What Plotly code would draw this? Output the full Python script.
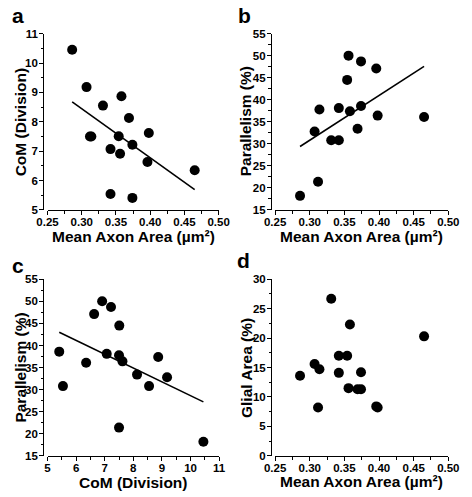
import numpy as np
import plotly.graph_objects as go

# ---- data (one entry per sample) ----
area = [0.286, 0.307, 0.312, 0.314, 0.331, 0.342, 0.342, 0.354, 0.356, 0.358,
        0.369, 0.374, 0.374, 0.396, 0.398, 0.465]          # Mean Axon Area (µm²)
com = [10.45, 9.18, 7.50, 7.50, 8.55, 7.07, 5.54, 7.51, 6.91, 8.87,
       8.13, 7.22, 5.41, 6.63, 7.62, 6.35]                  # CoM (Division)
parallelism = [18.2, 32.8, 21.4, 37.8, 30.8, 38.1, 30.8, 44.5, 50.0, 37.4,
               33.4, 48.7, 38.6, 47.1, 36.4, 36.1]          # Parallelism (%)
glial = [13.6, 15.6, 8.2, 14.7, 26.7, 14.1, 17.0, 17.0, 11.5, 22.3,
         11.3, 14.2, 11.3, 8.4, 8.2, 20.3]                  # Glial Area (%)

panel_letters = ["a", "b", "c", "d"]
area_title = "Mean Axon Area (µm²)"
com_title = "CoM (Division)"
par_title = "Parallelism (%)"
glial_title = "Glial Area (%)"

W, H = 472, 497
FONT = "Liberation Sans, Arial, sans-serif"

def px_x(p):
    return p / W

def px_y(p):
    return 1 - p / H

fig = go.Figure()

panels = [
    dict(x=area, y=com, fit=True, xr=[0.25, 0.50], xd=0.05, xm=0.025, xf=".2f",
         yr=[5, 11], yd=1, ym=0.5, xdom=(38.3, 217.8), ydom=(28.3, 209.0), ypos=34.0,
         xt=area_title, yt=com_title, xt_y=236, yt_x=10, letter=(7, 9.5)),
    dict(x=area, y=parallelism, fit=True, xr=[0.25, 0.50], xd=0.05, xm=0.025, xf=".2f",
         yr=[15, 55], yd=5, ym=2.5, xdom=(277.0, 458.7), ydom=(28.3, 209.0), ypos=272.8,
         xt=area_title, yt=par_title, xt_y=236, yt_x=246, letter=(245, 9.5)),
    dict(x=com, y=parallelism, fit=True, xr=[5, 11], xd=1, xm=0.5, xf="d",
         yr=[15, 55], yd=5, ym=2.5, xdom=(38.3, 218.3), ydom=(280.0, 461.0), ypos=34.0,
         xt=com_title, yt=par_title, xt_y=488, yt_x=9.5, letter=(7, 266)),
    dict(x=area, y=glial, fit=False, xr=[0.25, 0.50], xd=0.05, xm=0.025, xf=".2f",
         yr=[0, 30], yd=5, ym=2.5, xdom=(277.0, 458.7), ydom=(280.0, 461.0), ypos=273.0,
         xt=area_title, yt=glial_title, xt_y=487, yt_x=247, letter=(244, 261)),
]

annotations = []
for i, p in enumerate(panels):
    n = "" if i == 0 else str(i + 1)
    xa, ya = "x" + n, "y" + n
    fig.add_trace(go.Scatter(
        x=p["x"], y=p["y"], mode="markers", xaxis=xa, yaxis=ya,
        marker=dict(size=10, color="black"), showlegend=False, cliponaxis=False,
        hoverinfo="skip"))
    if p["fit"]:
        xs = np.array(p["x"], dtype=float)
        ys = np.array(p["y"], dtype=float)
        k, b = np.polyfit(xs, ys, 1)
        xl = np.array([xs.min(), xs.max()])
        fig.add_trace(go.Scatter(
            x=xl, y=k * xl + b, mode="lines", xaxis=xa, yaxis=ya,
            line=dict(color="black", width=1.6), showlegend=False, hoverinfo="skip"))

    tickfont = dict(family=FONT, size=11.5, color="black", weight="bold")
    fig.layout["xaxis" + n] = dict(
        domain=[px_x(p["xdom"][0]), px_x(p["xdom"][1])], anchor=ya,
        range=p["xr"], dtick=p["xd"], tick0=p["xr"][0], tickformat=p["xf"],
        showline=True, linecolor="black", linewidth=1.4, showgrid=False, zeroline=False,
        ticks="outside", ticklen=4, tickwidth=1.4, tickcolor="black",
        ticklabelstandoff=-3,
        minor=dict(ticks="outside", ticklen=2.5, tickwidth=1.2, tickcolor="black",
                   dtick=p["xm"], showgrid=False),
        tickfont=tickfont, fixedrange=True)
    fig.layout["yaxis" + n] = dict(
        domain=[px_y(p["ydom"][1]), px_y(p["ydom"][0])], anchor="free",
        position=px_x(p["ypos"]),
        range=p["yr"], dtick=p["yd"], tick0=p["yr"][0],
        showline=True, linecolor="black", linewidth=1.4, showgrid=False, zeroline=False,
        ticks="outside", ticklen=4, tickwidth=1.4, tickcolor="black",
        ticklabelstandoff=-1,
        minor=dict(ticks="outside", ticklen=2.5, tickwidth=1.2, tickcolor="black",
                   dtick=p["ym"], showgrid=False),
        tickfont=tickfont, fixedrange=True)

    title_font = dict(family=FONT, size=15.5, color="black", weight="bold")
    xc = (p["xdom"][0] + p["xdom"][1]) / 2
    yc = (p["ydom"][0] + p["ydom"][1]) / 2
    annotations.append(dict(text=p["xt"], x=px_x(xc), y=px_y(p["xt_y"]),
                            xref="paper", yref="paper", xanchor="center", yanchor="middle",
                            showarrow=False, font=title_font))
    annotations.append(dict(text=p["yt"], x=px_x(p["yt_x"]), y=px_y(yc),
                            xref="paper", yref="paper", xanchor="center", yanchor="middle",
                            textangle=-90, showarrow=False, font=title_font))
    annotations.append(dict(text=panel_letters[i], x=px_x(p["letter"][0]), y=px_y(p["letter"][1]),
                            xref="paper", yref="paper", xanchor="center", yanchor="middle",
                            showarrow=False,
                            font=dict(family=FONT, size=21, color="black", weight="bold")))

fig.update_layout(
    width=W, height=H, margin=dict(l=0, r=0, t=0, b=0),
    paper_bgcolor="white", plot_bgcolor="white",
    annotations=annotations, showlegend=False, hovermode=False,
)

fig.write_html("out.html", config={"displayModeBar": False},
               post_script="document.body.style.margin='0px';")
